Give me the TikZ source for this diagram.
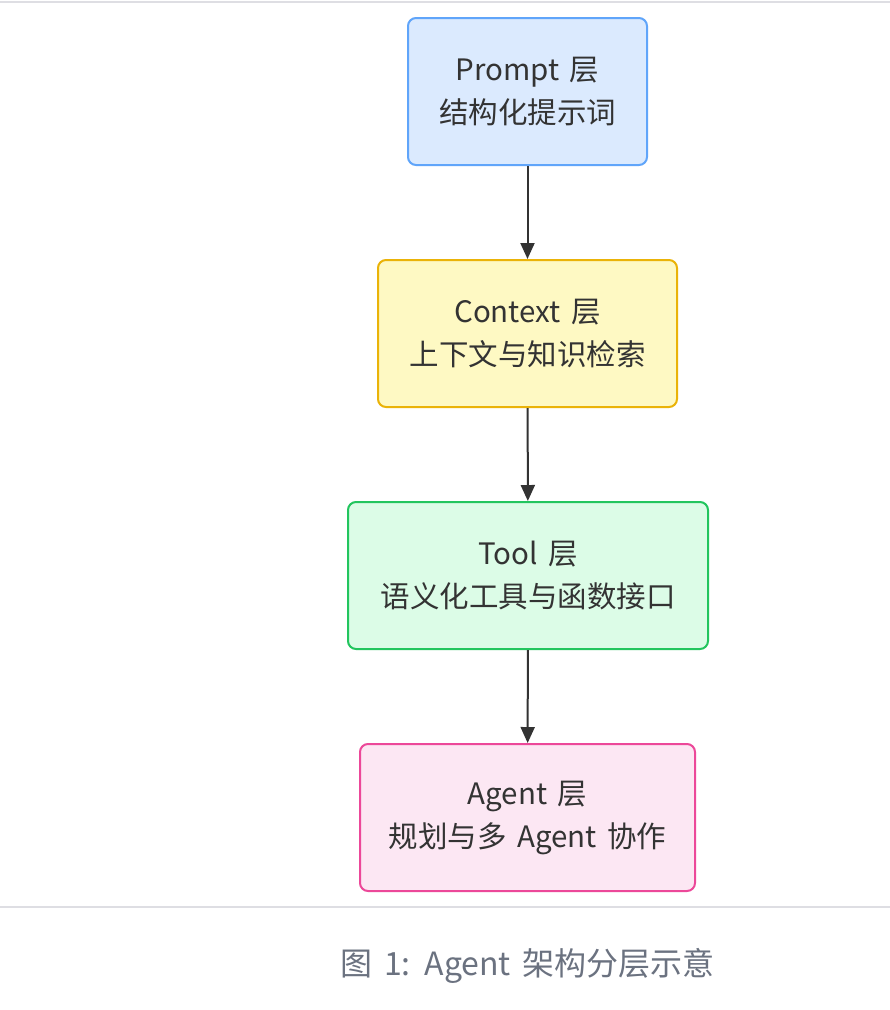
\documentclass[tikz,border=0pt]{standalone}
\usepackage{fontspec}
\setmainfont{Noto Sans CJK SC}[WordSpace={1.6}]
\usetikzlibrary{arrows.meta}
\definecolor{txt}{HTML}{333333}
\definecolor{capc}{HTML}{6B7280}
\definecolor{rulec}{HTML}{DEDEE3}
\definecolor{bfill}{HTML}{DBEAFE}\definecolor{bdraw}{HTML}{60A5FA}
\definecolor{yfill}{HTML}{FEF9C3}\definecolor{ydraw}{HTML}{EAB308}
\definecolor{gfill}{HTML}{DCFCE7}\definecolor{gdraw}{HTML}{22C55E}
\definecolor{pfill}{HTML}{FCE7F3}\definecolor{pdraw}{HTML}{EC4899}
\tikzset{
  layer/.style={rectangle, rounded corners=8pt, line width=2pt, minimum height=147pt,
    align=center, text=txt, font=\fontsize{29.5pt}{43pt}\selectfont, inner sep=0pt},
  conn/.style={draw=txt, line width=2pt, -{Triangle[width=14pt,length=16pt]}},
}
\begin{document}
\begin{tikzpicture}[x=1pt,y=-1pt]
\useasboundingbox[fill=white] (0,0) rectangle (890,1010);
\draw[rulec, line width=2pt] (0,2) -- (890,2);
\draw[rulec, line width=2pt] (0,907) -- (890,907);
\node[layer, fill=bfill, draw=bdraw, minimum width=239pt] (p) at (527.5,91.5) {Prompt 层\\结构化提示词};
\node[layer, fill=yfill, draw=ydraw, minimum width=299pt] (c) at (527.5,333.5) {Context 层\\上下文与知识检索};
\node[layer, fill=gfill, draw=gdraw, minimum width=360pt] (t) at (528,575.5) {Tool 层\\语义化工具与函数接口};
\node[layer, fill=pfill, draw=pdraw, minimum width=335pt] (a) at (527.5,817.5) {Agent 层\\规划与多 Agent 协作};
\draw[conn] (p) -- (c);
\draw[conn] (c) -- (t);
\draw[conn] (t) -- (a);
\node[text=capc, font=\fontsize{32pt}{36pt}\selectfont] (cap) at (527.5,966) {图 1: Agent 架构分层示意};
\end{tikzpicture}
\end{document}
